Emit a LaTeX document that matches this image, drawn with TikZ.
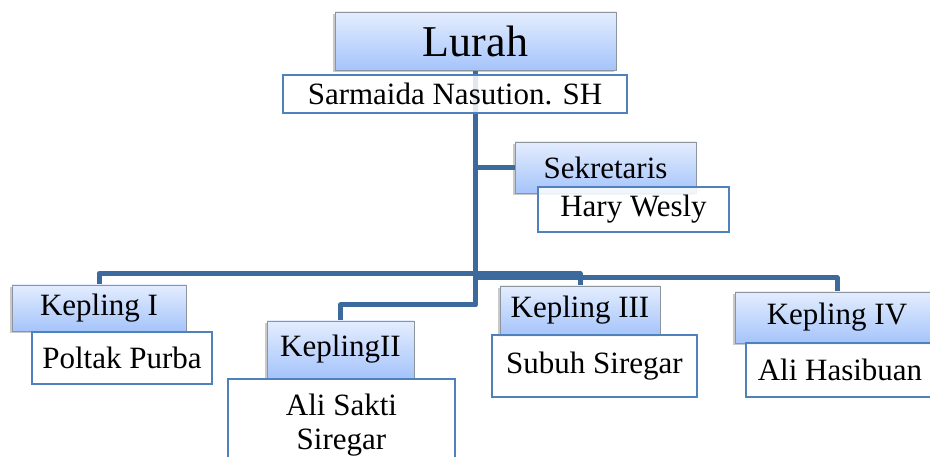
\documentclass[tikz,border=0pt]{standalone}
\usepackage{fontspec}
\setmainfont{Liberation Serif}
\usetikzlibrary{shadows}
\pgfdeclarelayer{background}
\pgfsetlayers{background,main}
\definecolor{linec}{HTML}{3D6A9C}
\definecolor{boxtop}{HTML}{E4EDFE}
\definecolor{boxbot}{HTML}{A5C4FB}
\definecolor{boxline}{HTML}{8C949E}
\definecolor{wline}{HTML}{4F81BD}
\tikzset{
  bluebox/.style={rectangle, draw=boxline, line width=0.8pt, top color=boxtop, bottom color=boxbot,
    inner sep=0pt, drop shadow={shadow xshift=-2pt, shadow yshift=-2pt, opacity=0.35, fill=black!60},
    font=\fontsize{31}{34}\selectfont},
  whitebox/.style={rectangle, draw=wline, line width=1.3pt, fill=white, fill opacity=0.85, text opacity=1,
    inner sep=0pt, font=\fontsize{31}{34}\selectfont},
  conn/.style={draw=linec, line width=5pt, line join=round},
  lbl/.style={inner sep=0pt, font=\fontsize{31}{34}\selectfont, align=center}
}
\begin{document}
\begin{tikzpicture}[x=1pt,y=-1pt]
\clip (0,0) rectangle (930,457);
\begin{pgfonlayer}{background}
\fill[white] (0,0) rectangle (930,457);
\end{pgfonlayer}
% boxes
\node[bluebox, minimum width=281pt, minimum height=58pt, font=\fontsize{44}{48}\selectfont] (lurah) at (475.5,41) {Lurah};
\node[whitebox, minimum width=344pt, minimum height=38pt] (sarm) at (455,94) {Sarmaida Nasution. SH};
\node[bluebox, minimum width=181pt, minimum height=51pt] (sek) at (605.5,167.5) {Sekretaris};
\node[whitebox, minimum width=191pt, minimum height=45pt] (hary) at (633.5,209.5) {Hary Wesly};
\node[bluebox, minimum width=174pt, minimum height=46pt] (k1) at (99,308) {Kepling I};
\node[whitebox, minimum width=180pt, minimum height=52pt] (poltak) at (122,358) {Poltak Purba};
\node[bluebox, minimum width=147pt, minimum height=57pt] (k2) at (340.5,349.5) {KeplingII};
\node[whitebox, minimum width=227pt, minimum height=101pt] (alisakti) at (341.5,429.5) {};
\node[lbl] (alisaktitxt) at (341.5,425) {Ali Sakti\\Siregar};
\node[bluebox, minimum width=160pt, minimum height=49pt] (k3) at (580,310.5) {Kepling III};
\node[whitebox, minimum width=205pt, minimum height=62pt] (subuh) at (594.5,366) {Subuh Siregar};
\node[bluebox, minimum width=204pt, minimum height=51pt] (k4) at (837,317.5) {Kepling IV};
\node[whitebox, minimum width=188pt, minimum height=54pt] (alih) at (840,370) {Ali Hasibuan};
% connectors
\coordinate (tb) at (475.5,305);
\coordinate (hl) at (475.5,273.5);
\coordinate (hr) at (475.5,278);
\begin{pgfonlayer}{background}
\draw[conn] (lurah.south) -- (tb) -| (k2.north);
\draw[conn] (lurah.south |- sek.west) -- (sek.west);
\draw[conn] (hl) -| (k1.north);
\draw[conn] (hl) -| (k3.north);
\draw[conn] (hr) -| (k4.north);
\end{pgfonlayer}
\end{tikzpicture}
\end{document}
